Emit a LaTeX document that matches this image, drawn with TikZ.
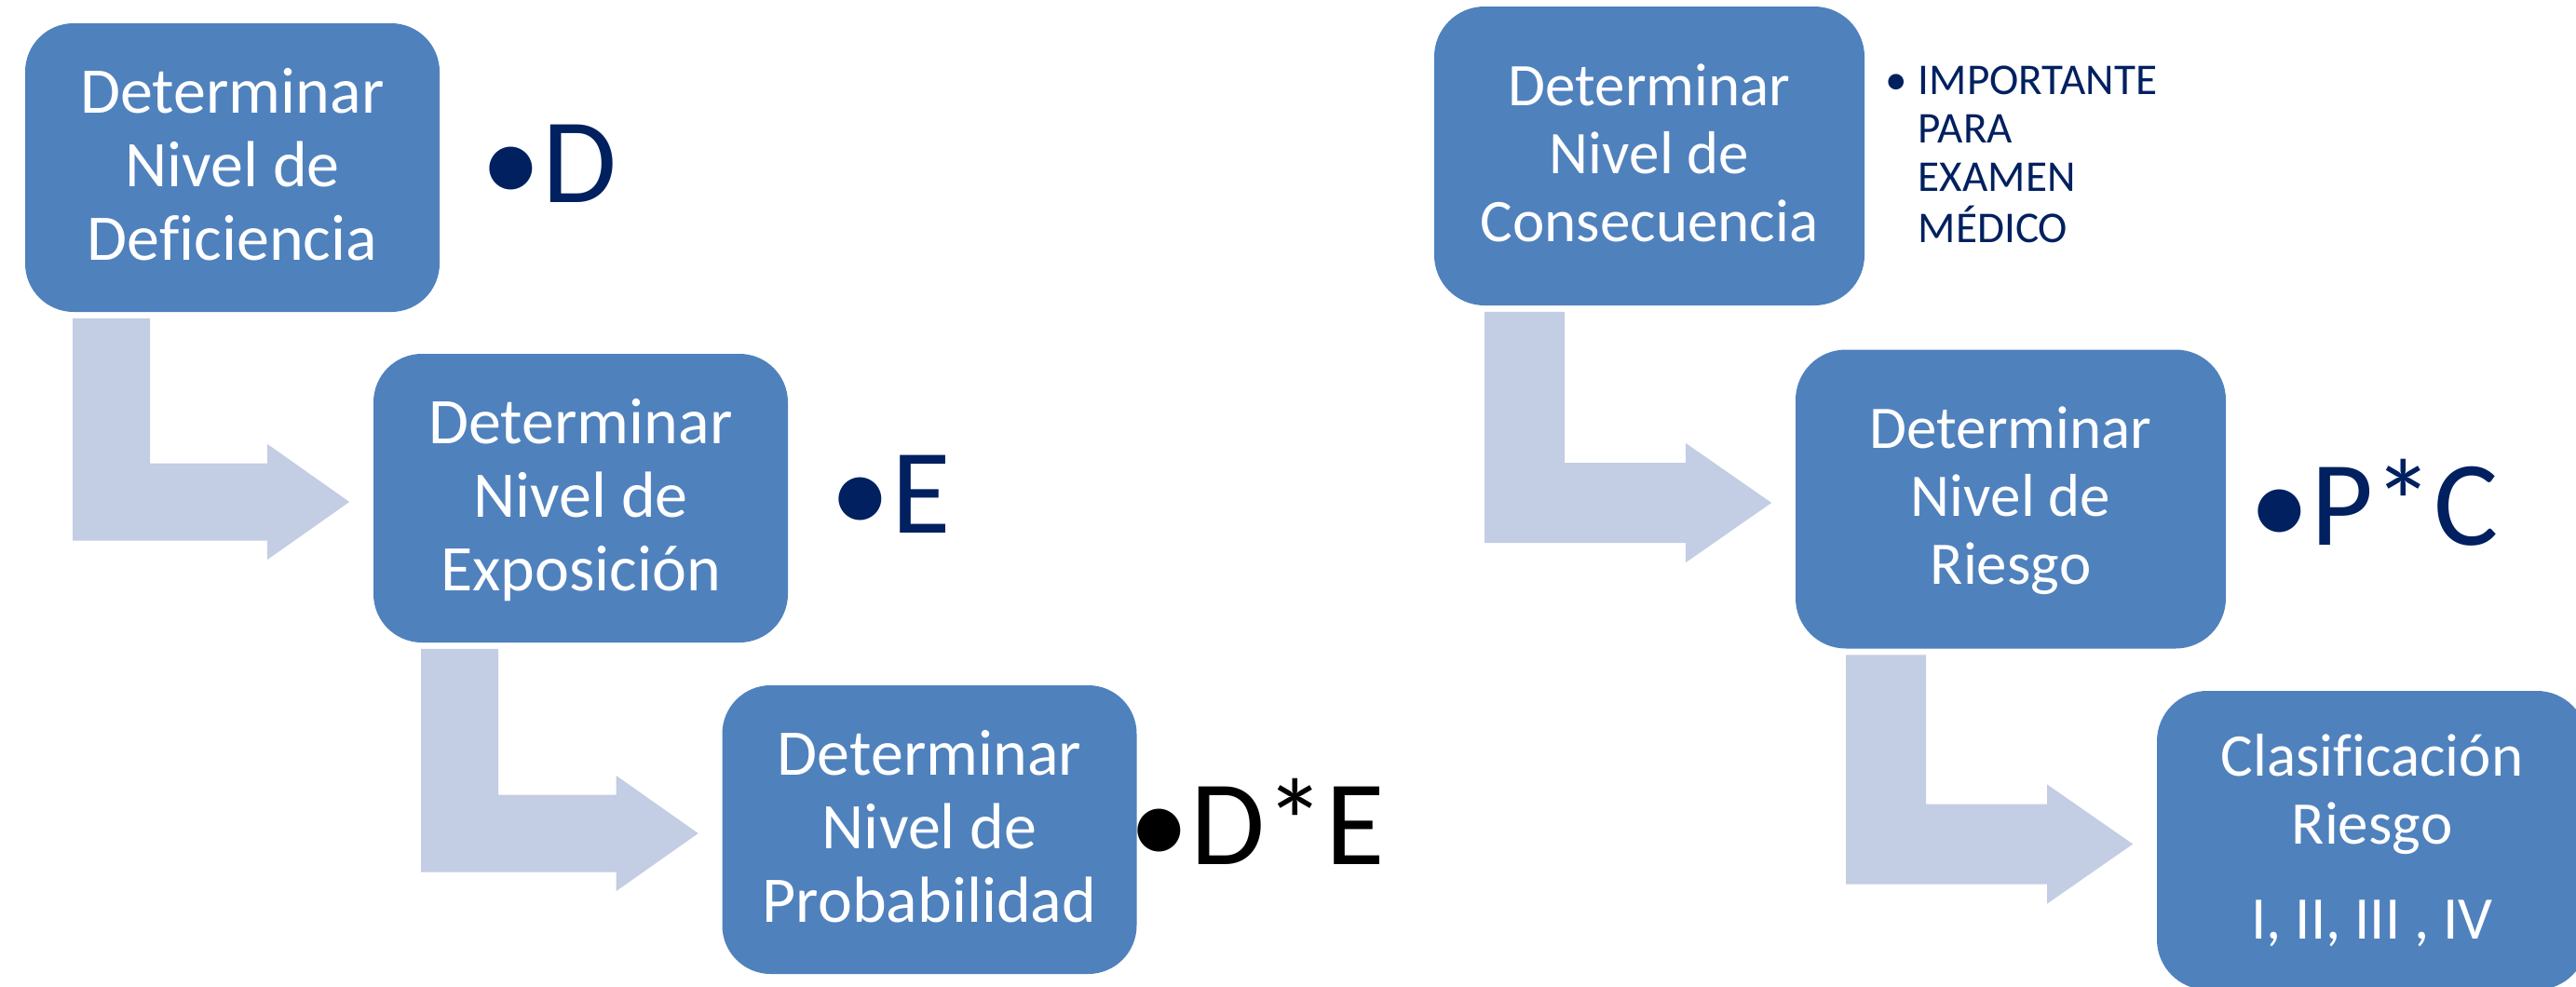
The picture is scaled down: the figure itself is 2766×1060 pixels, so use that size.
\documentclass[tikz,border=0pt]{standalone}
\usepackage{fontspec}
\setmainfont{Carlito}[Ligatures=NoCommon]
\usetikzlibrary{calc}
\definecolor{boxblue}{HTML}{4F81BD}
\definecolor{arrowblue}{HTML}{C3CDE3}
\definecolor{navytext}{HTML}{002060}
\newcommand\myTS[1]{\rule{0pt}{#1}}
\newcommand\myBS[1]{\rule[-#1]{0pt}{#1}}
% #1 from node, #2 to node, #3 inset, #4 half bar width, #5 head half height, #6 head length
\newcommand\bentarrow[6]{%
  \fill[arrowblue] let \p1=(#1.south west), \p2=(#2.west) in
    (\x1+#3, \y1-1.5pt) -- (\x1+#3+2*#4, \y1-1.5pt)
    -- (\x1+#3+2*#4, \y2-1pt+#4) -- (\x2-6.25pt-#6, \y2-1pt+#4)
    -- (\x2-6.25pt-#6, \y2-1pt+#5) -- (\x2-6.25pt, \y2-1pt)
    -- (\x2-6.25pt-#6, \y2-1pt-#5) -- (\x2-6.25pt-#6, \y2-1pt-#4)
    -- (\x1+#3, \y2-1pt-#4) -- cycle;}
\begin{document}
\begin{tikzpicture}[x=0.25pt,y=-0.25pt,
  boxL/.style={rectangle, rounded corners=13pt, fill=boxblue, inner sep=0pt,
    minimum width=111.25pt, minimum height=77.5pt, text=white, align=center,
    font=\fontsize{17.5}{19.75}\selectfont},
  boxR/.style={rectangle, rounded corners=13.5pt, fill=boxblue, inner sep=0pt,
    minimum width=115.5pt, minimum height=80.25pt, text=white, align=center,
    font=\fontsize{16.25}{18.25}\selectfont},
  bul/.style={inner sep=0pt, anchor=base west, text=navytext,
    font=\fontsize{32.5}{39}\selectfont},
  smallbul/.style={inner sep=0pt, anchor=base west, text=navytext,
    font=\fontsize{11.8}{13.1}\selectfont}]
\useasboundingbox (0,0) rectangle (2766,1060);
% boxes
\node[boxL] (b1) at (249.5,180) {\myTS{15pt}Determinar\\Nivel de\\Deficiencia\myBS{5pt}};
\node[boxL] (b2) at (623.5,535) {\myTS{15pt}Determinar\\Nivel de\\Exposición\myBS{5pt}};
\node[boxL] (b3) at (998,891) {\myTS{15pt}Determinar\\Nivel de\\Probabilidad\myBS{5pt}};
\node[boxR] (b4) at (1771,167.5) {\myTS{14.5pt}Determinar\\Nivel de\\Consecuencia\myBS{5.25pt}};
\node[boxR] (b5) at (2159,536) {\myTS{14.5pt}Determinar\\Nivel de\\Riesgo\myBS{5.25pt}};
\node[boxR] (b6) at (2547,902.5) {\myTS{14.5pt}Clasificación\\Riesgo\\[7.25pt]I, II, III , IV\myBS{5.25pt}};
% bent arrows
\bentarrow{b1}{b2}{13pt}{10.375pt}{15.5pt}{22pt}
\bentarrow{b2}{b3}{13pt}{10.375pt}{15.5pt}{22pt}
\bentarrow{b4}{b5}{13.75pt}{10.75pt}{16pt}{23pt}
\bentarrow{b5}{b6}{13.75pt}{10.75pt}{16pt}{23pt}
% bullet texts
\node[bul] (td) at (514,217) {\makebox[17pt][c]{•}D};
\node[bul] (te) at (889,572) {\makebox[17pt][c]{•}E};
\node[bul, text=black] (tde) at (1210,928) {\makebox[17pt][c]{•}D*E};
\node[bul] (tpc) at (2413,585) {\makebox[17pt][c]{•}P*C};
\node[smallbul] (timp) at (2011,101) {\begin{tabular}[t]{@{}l@{}l@{}}\makebox[12pt][c]{•}&IMPORTANTE\\&PARA\\&EXAMEN\\&MÉDICO\end{tabular}};
\end{tikzpicture}
\end{document}
